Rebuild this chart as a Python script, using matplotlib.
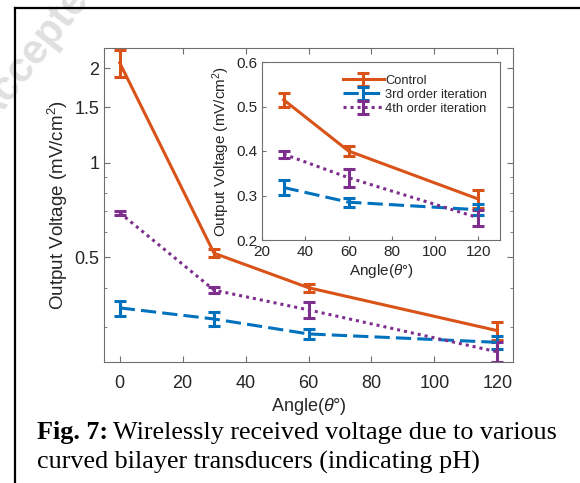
import numpy as np
import matplotlib
matplotlib.use('Agg')
import matplotlib.pyplot as plt
from matplotlib.ticker import FixedLocator, LogLocator, NullFormatter
from matplotlib.lines import Line2D

plt.rcParams['font.family'] = ['Liberation Sans', 'DejaVu Sans']
plt.rcParams['mathtext.fontset'] = 'custom'
plt.rcParams['mathtext.it'] = 'Liberation Sans:italic'
plt.rcParams['mathtext.rm'] = 'Liberation Sans'

# data (main plot, log y)
angles = [0, 30, 60, 120]
control = [2.08, 0.515, 0.40, 0.292]
control_err = [0.21, 0.015, 0.012, 0.02]
third = [0.345, 0.318, 0.285, 0.268]
third_err = [0.019, 0.016, 0.01, 0.012]
fourth = [0.693, 0.393, 0.34, 0.25]
fourth_err = [0.01, 0.008, 0.02, 0.018]

# inset (linear y, angles 30..120)
inset_angles = angles[1:]
inset_control = control[1:]
inset_control_err = control_err[1:]
inset_third = third[1:]
inset_third_err = third_err[1:]
inset_fourth = fourth[1:]
inset_fourth_err = fourth_err[1:]

c_orange = '#D95319'
c_blue = '#0072BD'
c_purple = '#7E2F8E'
spine_col = '#6e6e6e'
txt_col = '#262626'

W, H = 580, 483
fig = plt.figure(figsize=(W / 100, H / 100), dpi=100)

# faint watermark (partly off the page, as in the scan)
fig.text(0.068, 0.905, 'Accepted', fontsize=30, fontweight='bold', color='#e0e0e0',
         rotation=52, ha='center', va='center', zorder=0)

# frame
fig.add_artist(Line2D([15 / W, 15 / W], [0, 1 - 8 / H], color='black', lw=1.6))
fig.add_artist(Line2D([15 / W, 1], [1 - 8 / H, 1 - 8 / H], color='black', lw=1.6))


def style_axes(ax, size):
    for s in ax.spines.values():
        s.set_color(spine_col)
        s.set_linewidth(0.8)
    ax.tick_params(which='both', direction='in', colors=spine_col, labelcolor=txt_col,
                   labelsize=size)


def draw(ax, x, series, lw, cap):
    lines = []
    for y, e, col, ls, lab in series:
        h = ax.errorbar(x, y, yerr=e, color=col, lw=lw, ls=ls, capsize=cap,
                        capthick=lw, elinewidth=lw, label=lab)
        lines.append(h)
    return lines


# main axes
ax = fig.add_axes([104 / W, 1 - 362 / H, (513 - 104) / W, (362 - 48) / H])
draw(ax, angles, [
    (control, control_err, c_orange, '-', 'Control'),
    (third, third_err, c_blue, (0, (5, 2)), '3rd order iteration'),
    (fourth, fourth_err, c_purple, (0, (1, 1.3)), '4th order iteration'),
], 2.2, 4.5)
ax.set_yscale('log')
ax.set_xlim(-5, 125)
ax.set_ylim(0.232, 2.32)
ax.set_xticks([0, 20, 40, 60, 80, 100, 120])
ax.yaxis.set_major_locator(FixedLocator([0.5, 1, 1.5, 2]))
ax.set_yticklabels(['0.5', '1', '1.5', '2'])
ax.yaxis.set_minor_locator(LogLocator(base=10, subs=np.arange(1, 10) * 1.0))
ax.yaxis.set_minor_formatter(NullFormatter())
ax.tick_params(which='both', top=True, right=True)
ax.tick_params(which='major', length=4)
ax.tick_params(which='minor', length=2.5)
style_axes(ax, 13)
ax.tick_params(axis='x', pad=9)
ax.set_xlabel(r'Angle($\theta$°)', fontsize=13, color=txt_col, labelpad=3)
ax.set_ylabel('Output Voltage (mV/cm$^2$)', fontsize=13.5, color=txt_col, labelpad=3)

# inset axes
ins = fig.add_axes([262 / W, 1 - 240 / H, (500 - 262) / W, (240 - 62) / H])
ins.set_facecolor('white')
hs = draw(ins, inset_angles, [
    (inset_control, inset_control_err, c_orange, '-', 'Control'),
    (inset_third, inset_third_err, c_blue, (0, (5, 2)), '3rd order iteration'),
    (inset_fourth, inset_fourth_err, c_purple, (0, (1, 1.3)), '4th order iteration'),
], 2.2, 4.5)
ins.set_xlim(20, 130)
ins.set_ylim(0.2, 0.6)
ins.set_xticks([20, 40, 60, 80, 100, 120])
ins.set_yticks([0.2, 0.3, 0.4, 0.5, 0.6])
ins.tick_params(length=3)
style_axes(ins, 11)
ins.set_xlabel(r'Angle($\theta$°)', fontsize=11, color=txt_col, labelpad=2)
ins.set_ylabel('Output Voltage (mV/cm$^2$)', fontsize=11, color=txt_col, labelpad=3)
leg = ins.legend(handles=hs, loc='upper right', frameon=False, fontsize=9.3,
                 handlelength=3.2, handletextpad=0.1, labelspacing=0.15,
                 borderaxespad=0.6)
for t in leg.get_texts():
    t.set_color(txt_col)

# caption
fig.canvas.draw()
t1 = fig.text(37 / W, 1 - 439 / H, 'Fig. 7:', fontsize=18.8, fontweight='bold',
              family='Liberation Serif', va='baseline')
fig.canvas.draw()
bb = t1.get_window_extent()
fig.text(bb.x1 / W + 5 / W, 1 - 439 / H, 'Wirelessly received voltage due to various',
         fontsize=18.8, family='Liberation Serif', va='baseline')
fig.text(37 / W, 1 - 469 / H, 'curved bilayer transducers (indicating pH)',
         fontsize=18.8, family='Liberation Serif', va='baseline')

fig.savefig('out.png', dpi=100)
